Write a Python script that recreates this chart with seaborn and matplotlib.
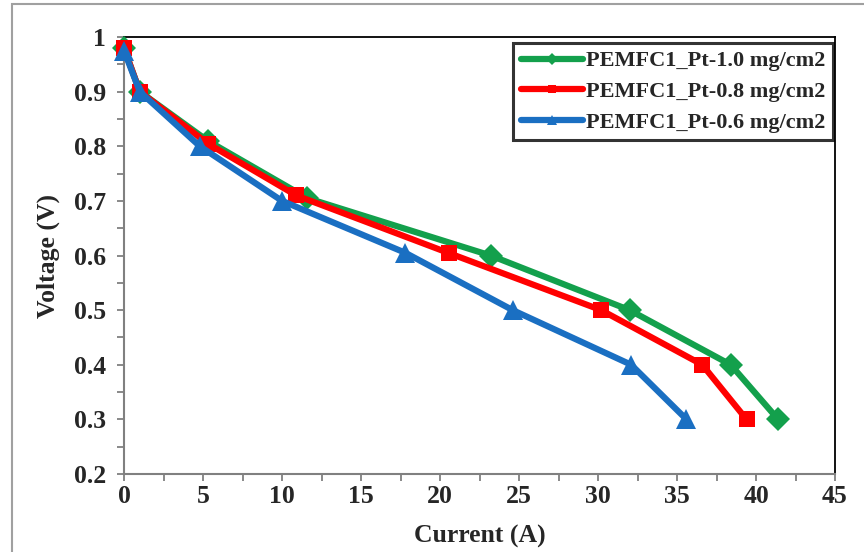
import numpy as np
import pandas as pd
import matplotlib
matplotlib.use('Agg')
import matplotlib.pyplot as plt
from matplotlib.lines import Line2D
from matplotlib.patches import Rectangle
from matplotlib.ticker import MultipleLocator
import seaborn as sns

# %% data
labels = ['PEMFC1_Pt-1.0 mg/cm2', 'PEMFC1_Pt-0.8 mg/cm2', 'PEMFC1_Pt-0.6 mg/cm2']
volt_pt10 = [0.98, 0.90, 0.81, 0.705, 0.60, 0.50, 0.40, 0.30]
curr_pt10 = [0.0, 1.0, 5.3, 11.6, 23.2, 32.0, 38.4, 41.4]
volt_pt08 = [0.98, 0.90, 0.805, 0.71, 0.604, 0.50, 0.40, 0.30]
curr_pt08 = [0.0, 1.0, 5.3, 10.9, 20.6, 30.2, 36.6, 39.4]
volt_pt06 = [0.975, 0.90, 0.80, 0.70, 0.605, 0.50, 0.40, 0.30]
curr_pt06 = [0.0, 1.0, 4.8, 10.0, 17.8, 24.6, 32.1, 35.6]

colors = ['#13a04c', '#ff0000', '#1a6fc2']
markers = ['D', 's', '^']
msizes = [12, 12, 15]

df = pd.concat([
    pd.DataFrame({'Current': c, 'Voltage': v, 'series': lab})
    for c, v, lab in zip([curr_pt10, curr_pt08, curr_pt06],
                         [volt_pt10, volt_pt08, volt_pt06], labels)
])

# %% plot
sns.set_style('white')
plt.rcParams['font.family'] = ['Liberation Serif', 'DejaVu Serif']
plt.rcParams['font.weight'] = 'bold'

fig = plt.figure(figsize=(8.64, 5.52), dpi=100)
ax = fig.add_axes([124/864, 1-474/552, (835-124)/864, (474-37)/552])

for lab, col, mk, ms in zip(labels, colors, markers, msizes):
    sns.lineplot(data=df[df['series'] == lab], x='Current', y='Voltage',
                 color=col, marker=mk, markersize=ms, markeredgewidth=0,
                 linewidth=4.5, sort=False, ax=ax, legend=False, zorder=3,
                 clip_on=False)

ax.set_xlim(0, 45)
ax.set_ylim(0.2, 1.0)
ax.xaxis.set_major_locator(MultipleLocator(5))
ax.xaxis.set_minor_locator(MultipleLocator(2.5))
ax.yaxis.set_minor_locator(MultipleLocator(0.05))
ax.set_yticks(np.arange(0.2, 1.01, 0.1))
ax.set_yticklabels(['0.2', '0.3', '0.4', '0.5', '0.6', '0.7', '0.8', '0.9', '1'])
ax.tick_params(which='both', direction='out', length=5, width=1.3, color='#808080',
               bottom=True, left=True, labelsize=18.5)
ax.tick_params(axis='x', pad=3)
ax.tick_params(axis='y', pad=8)

for s in ['left', 'bottom']:
    ax.spines[s].set_color('#808080')
    ax.spines[s].set_linewidth(1.5)
for s in ['top', 'right']:
    ax.spines[s].set_color('black')
    ax.spines[s].set_linewidth(1.3)

ax.set_xlabel('Current (A)', fontsize=18.5, fontweight='bold', labelpad=12)
ax.set_ylabel('Voltage (V)', fontsize=18.5, fontweight='bold', labelpad=10)

handles = [Line2D([], [], color=c, marker=m, markersize=s*0.5, linewidth=4.5,
                  markeredgewidth=0)
           for c, m, s in zip(colors, markers, msizes)]
leg = ax.legend(handles, labels, loc='upper right', bbox_to_anchor=(0.997, 0.986),
                prop={'size': 16, 'weight': 'bold'}, frameon=True, fancybox=False,
                handlelength=2.8, handletextpad=0.1, labelspacing=0.45,
                borderpad=0.35, borderaxespad=0.0)
leg.get_frame().set_edgecolor('black')
leg.get_frame().set_linewidth(2.2)

# outer chart border
fig.patches.append(Rectangle((12/864, -0.01), 1.0, 1-4/552+0.01, transform=fig.transFigure,
                             fill=False, edgecolor='#a0a0a0', linewidth=1.5))

fig.savefig('out.png', dpi=100)
